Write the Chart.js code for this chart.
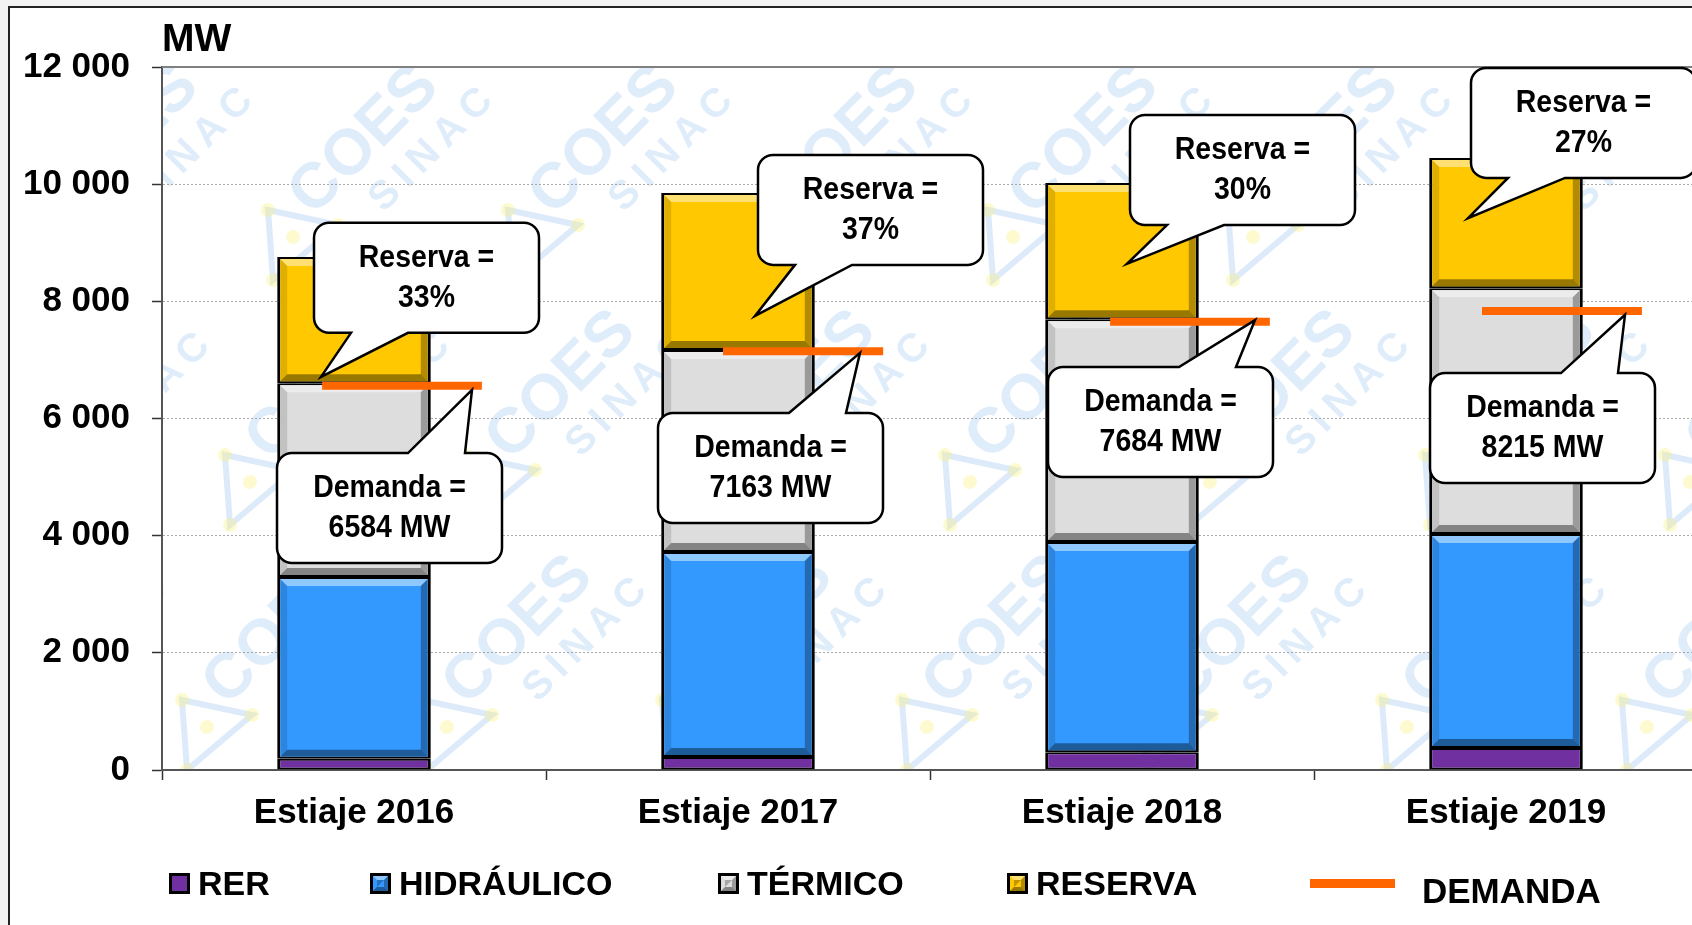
<!DOCTYPE html>
<html>
<head>
<meta charset="utf-8">
<title>Reserva y demanda - Estiaje 2016-2019</title>
<script src="https://cdn.jsdelivr.net/npm/chart.js@4.4.1/dist/chart.umd.min.js"></script>
<style>
  html, body { margin: 0; padding: 0; overflow: hidden; background: #f3f3f3; }
  #wrap { position: absolute; left: 0; top: 0; width: 1700px; height: 925px; }
</style>
</head>
<body>
<div id="wrap"><canvas id="chart" width="1700" height="925"></canvas></div>
<script>
/* Chart data (MW) */
const categories = ['Estiaje 2016', 'Estiaje 2017', 'Estiaje 2018', 'Estiaje 2019'];
const rer = [190, 220, 305, 375];
const hidraulico = [3105, 3500, 3585, 3655];
const termico = [3305, 3450, 3805, 4195];
const reserva = [2155, 2680, 2325, 2220];
const demandaLine = [6560, 7150, 7650, 7835];
const demandaMW = [6584, 7163, 7684, 8215];
const reservaPct = [33, 37, 30, 27];
const yMax = 12000;
const yStep = 2000;

/* Layout of the demand segments, in category widths from the category centre */
const demandaSpan = [[-0.083, 0.333], [-0.039, 0.378], [-0.031, 0.385], [-0.0625, 0.354]];
/* Callout layout: [box left px from category centre, box top MW, tip px from centre, tip MW] */
const reservaCallout = [[-40, 9340, -33, 6710], [20, 10500, 17, 7750], [8, 11180, 5, 8640], [-35, 11985, -38, 9420]];
const demandaCallout = [[-77, 5410, 118, 6490], [-80, 6095, 122, 7120], [-74, 6880, 133, 7680], [-76, 6775, 119, 7770]];

const FONT = "'Liberation Sans', Arial, Helvetica, sans-serif";

function fmt(v) {
    return String(v).replace(/\B(?=(\d{3})+(?!\d))/g, ' ');
}

// demand as short horizontal segments, on a hidden linear x axis
const demandaPoints = [];
demandaLine.forEach((v, i) => {
    demandaPoints.push({x: i + demandaSpan[i][0], y: v}, {x: i + demandaSpan[i][1], y: v}, {x: i + 0.45, y: null});
});

function poly(ctx, pts, color) {
    ctx.beginPath();
    ctx.moveTo(pts[0][0], pts[0][1]);
    pts.slice(1).forEach(p => ctx.lineTo(p[0], p[1]));
    ctx.closePath();
    ctx.fillStyle = color;
    ctx.fill();
}

function drawWatermark(ctx, area) {
    ctx.save();
    ctx.beginPath();
    ctx.rect(area.left, area.top, area.right - area.left, area.bottom - area.top);
    ctx.clip();
    for (let j = -1; j <= 2; j++) {
        for (let k = -2; k <= 6; k++) {
            const cx = 510 - 43 * j + 240 * k;
            const cy = 430 + 245 * j;
            // triangle logo
            ctx.strokeStyle = 'rgba(120,175,235,0.26)';
            ctx.lineWidth = 6;
            ctx.beginPath();
            ctx.moveTo(cx - 45, cy + 25);
            ctx.lineTo(cx + 25, cy + 40);
            ctx.lineTo(cx - 40, cy + 95);
            ctx.closePath();
            ctx.stroke();
            ctx.fillStyle = 'rgba(250,240,120,0.35)';
            [[cx - 45, cy + 25], [cx + 25, cy + 40], [cx - 40, cy + 95], [cx - 20, cy + 52]].forEach(p => {
                ctx.beginPath();
                ctx.arc(p[0], p[1], 7, 0, Math.PI * 2);
                ctx.fill();
            });
            // COES / SINAC
            ctx.save();
            ctx.translate(cx, cy);
            ctx.rotate(-Math.PI / 4);
            ctx.fillStyle = 'rgba(120,175,235,0.24)';
            ctx.font = 'bold 64px ' + FONT;
            ctx.textBaseline = 'alphabetic';
            ctx.fillText('COES', -23, 23);
            ctx.font = 'bold 40px ' + FONT;
            let sx = 30;
            'SINAC'.split('').forEach(ch => {
                ctx.fillText(ch, sx, 70);
                sx += ctx.measureText(ch).width + 8;
            });
            ctx.restore();
        }
    }
    ctx.restore();
}

function drawCallout(ctx, bx, by, tx, ty, onBottom, lines) {
    const w = 225, h = 110, r = 15;
    const ta = onBottom ? 37 : 131, tb = onBottom ? 94 : 188;
    ctx.beginPath();
    ctx.moveTo(bx + r, by);
    if (!onBottom) {
        ctx.lineTo(bx + ta, by);
        ctx.lineTo(tx, ty);
        ctx.lineTo(bx + tb, by);
    }
    ctx.lineTo(bx + w - r, by);
    ctx.arcTo(bx + w, by, bx + w, by + r, r);
    ctx.lineTo(bx + w, by + h - r);
    ctx.arcTo(bx + w, by + h, bx + w - r, by + h, r);
    if (onBottom) {
        ctx.lineTo(bx + tb, by + h);
        ctx.lineTo(tx, ty);
        ctx.lineTo(bx + ta, by + h);
    }
    ctx.lineTo(bx + r, by + h);
    ctx.arcTo(bx, by + h, bx, by + h - r, r);
    ctx.lineTo(bx, by + r);
    ctx.arcTo(bx, by, bx + r, by, r);
    ctx.closePath();
    ctx.fillStyle = '#fff';
    ctx.fill();
    ctx.strokeStyle = '#000';
    ctx.lineWidth = 2.5;
    ctx.lineJoin = 'miter';
    ctx.stroke();

    ctx.fillStyle = '#000';
    ctx.font = 'bold 32px ' + FONT;
    ctx.textAlign = 'center';
    ctx.textBaseline = 'alphabetic';
    lines.forEach((t, i) => {
        ctx.save();
        ctx.translate(bx + w / 2, by + 44 + i * 40);
        ctx.scale(0.89, 1);
        ctx.fillText(t, 0, 0);
        ctx.restore();
    });
}

function drawMarker(ctx, x, y, color, bevel) {
    ctx.fillStyle = '#000';
    ctx.fillRect(x, y, 21, 21);
    ctx.fillStyle = color;
    ctx.fillRect(x + 3, y + 3, 15, 15);
    if (bevel) {
        const l = x + 3, t = y + 3, r = x + 18, b = y + 18, s = 4;
        poly(ctx, [[l, t], [r, t], [r - s, t + s], [l + s, t + s]], 'rgba(255,255,255,0.45)');
        poly(ctx, [[r, t], [r, b], [r - s, b - s], [r - s, t + s]], 'rgba(0,0,0,0.3)');
        poly(ctx, [[l, b], [l + s, b - s], [r - s, b - s], [r, b]], 'rgba(0,0,0,0.4)');
        poly(ctx, [[l + s, t + s], [r - s, t + s], [l + s, b - s]], 'rgba(0,0,0,0.25)');
    }
}

const sheet = {
    id: 'sheet',
    beforeDraw(chart) {
        const ctx = chart.ctx;
        ctx.save();
        ctx.fillStyle = '#f3f3f3';
        ctx.fillRect(0, 0, chart.width, chart.height);
        ctx.fillStyle = '#fff';
        ctx.fillRect(10, 8, chart.width, chart.height);
        ctx.strokeStyle = '#222';
        ctx.lineWidth = 2;
        ctx.beginPath();
        ctx.moveTo(9, chart.height);
        ctx.lineTo(9, 7);
        ctx.lineTo(chart.width, 7);
        ctx.stroke();
        drawWatermark(ctx, chart.chartArea);
        ctx.restore();
    },
    beforeDatasetsDraw(chart) {
        const ctx = chart.ctx, a = chart.chartArea;
        ctx.save();
        ctx.strokeStyle = '#808080';
        ctx.lineWidth = 2;
        ctx.beginPath();
        ctx.moveTo(a.left, a.top);
        ctx.lineTo(a.right, a.top);
        ctx.stroke();
        ctx.restore();
    },
    afterDatasetDraw(chart, args) {
        // soft bevel on the stacked bars
        if (args.meta.type !== 'bar') return;
        const ctx = chart.ctx;
        ctx.save();
        args.meta.data.forEach(bar => {
            const p = bar.getProps(['x', 'y', 'base', 'width'], true);
            const l = p.x - p.width / 2 + 3, r = p.x + p.width / 2 - 3;
            const t = Math.min(p.y, p.base) + 2, b = Math.max(p.y, p.base) - 2;
            if (b - t < 25) return;
            const s = 7;
            poly(ctx, [[l, t], [r, t], [r - s, t + s], [l + s, t + s]], 'rgba(255,255,255,0.45)');
            poly(ctx, [[l, t], [l + s, t + s], [l + s, b - s], [l, b]], 'rgba(0,0,0,0.12)');
            poly(ctx, [[r, t], [r, b], [r - s, b - s], [r - s, t + s]], 'rgba(0,0,0,0.3)');
            poly(ctx, [[l, b], [l + s, b - s], [r - s, b - s], [r, b]], 'rgba(0,0,0,0.4)');
        });
        ctx.restore();
    },
    afterDraw(chart) {
        const ctx = chart.ctx;
        const xs = chart.scales.x, ys = chart.scales.y;
        ctx.save();

        // unit label
        ctx.fillStyle = '#000';
        ctx.font = 'bold 39px ' + FONT;
        ctx.textAlign = 'left';
        ctx.textBaseline = 'alphabetic';
        ctx.fillText('MW', chart.chartArea.left, 51);

        // callouts
        categories.forEach((c, i) => {
            const cx = xs.getPixelForValue(i);
            const rc = reservaCallout[i];
            drawCallout(ctx, cx + rc[0], ys.getPixelForValue(rc[1]), cx + rc[2], ys.getPixelForValue(rc[3]),
                true, ['Reserva =', reservaPct[i] + '%']);
            const dc = demandaCallout[i];
            drawCallout(ctx, cx + dc[0], ys.getPixelForValue(dc[1]), cx + dc[2], ys.getPixelForValue(dc[3]),
                false, ['Demanda =', demandaMW[i] + ' MW']);
        });

        // legend
        const legendX = [169, 370, 718, 1007];
        ctx.textAlign = 'left';
        ctx.textBaseline = 'alphabetic';
        chart.data.datasets.forEach((ds, i) => {
            if (ds.type === 'line') {
                ctx.strokeStyle = ds.borderColor;
                ctx.lineWidth = 9;
                ctx.beginPath();
                ctx.moveTo(1310, 883.5);
                ctx.lineTo(1395, 883.5);
                ctx.stroke();
                ctx.fillStyle = '#000';
                ctx.font = 'bold 35px ' + FONT;
                ctx.fillText(ds.label, 1422, 903);
                return;
            }
            drawMarker(ctx, legendX[i], 873, ds.backgroundColor, i > 0);
            ctx.fillStyle = '#000';
            ctx.font = 'bold 34px ' + FONT;
            ctx.fillText(ds.label, legendX[i] + 29, 895);
        });
        ctx.restore();
    }
};

const barStyle = {
    borderColor: '#000',
    borderWidth: {top: 2, bottom: 2, left: 3, right: 3},
    borderSkipped: false,
    barPercentage: 0.4,
    categoryPercentage: 1,
    grouped: false,
    order: 2
};

new Chart(document.getElementById('chart'), {
    type: 'bar',
    data: {
        labels: categories,
        datasets: [
            {label: 'RER', data: rer, backgroundColor: '#7030A0', ...barStyle},
            {label: 'HIDRÁULICO', data: hidraulico, backgroundColor: '#3399FF', ...barStyle},
            {label: 'TÉRMICO', data: termico, backgroundColor: '#DDDDDD', ...barStyle},
            {label: 'RESERVA', data: reserva, backgroundColor: '#FFC800', ...barStyle},
            {
                type: 'line',
                label: 'DEMANDA',
                data: demandaPoints,
                xAxisID: 'xd',
                borderColor: '#FF6600',
                borderWidth: 8,
                borderCapStyle: 'butt',
                pointRadius: 0,
                spanGaps: false,
                order: 0
            }
        ]
    },
    options: {
        responsive: false,
        animation: false,
        layout: {padding: {left: 0, top: 67, right: 2, bottom: 0}},
        plugins: {
            legend: {display: false},
            tooltip: {enabled: false}
        },
        scales: {
            x: {
                stacked: true,
                offset: true,
                afterFit: s => { s.height = 155; },
                grid: {drawOnChartArea: false, offset: true, tickLength: 10, tickColor: '#333', tickWidth: 1.5},
                border: {color: '#555', width: 2},
                ticks: {
                    color: '#000',
                    font: {family: FONT, size: 35, weight: 'bold'},
                    padding: 12,
                    maxRotation: 0,
                    autoSkip: false
                }
            },
            xd: {
                type: 'linear',
                display: false,
                min: -0.5,
                max: categories.length - 0.5,
                offset: false
            },
            y: {
                stacked: true,
                min: 0,
                max: yMax,
                afterFit: s => { s.width = 162; },
                grid: {
                    color: c => (c.tick && (c.tick.value === 0 || c.tick.value === yMax)) ? 'rgba(0,0,0,0)' : '#a8a8a8',
                    lineWidth: 1,
                    tickLength: 10,
                    tickColor: '#333',
                    tickWidth: 1.5
                },
                border: {color: '#555', width: 2, dash: [2, 2]},
                ticks: {
                    stepSize: yStep,
                    color: '#000',
                    padding: 22,
                    font: {family: FONT, size: 35, weight: 'bold'},
                    callback: v => fmt(v)
                }
            }
        }
    },
    plugins: [sheet]
});
</script>
</body>
</html>
